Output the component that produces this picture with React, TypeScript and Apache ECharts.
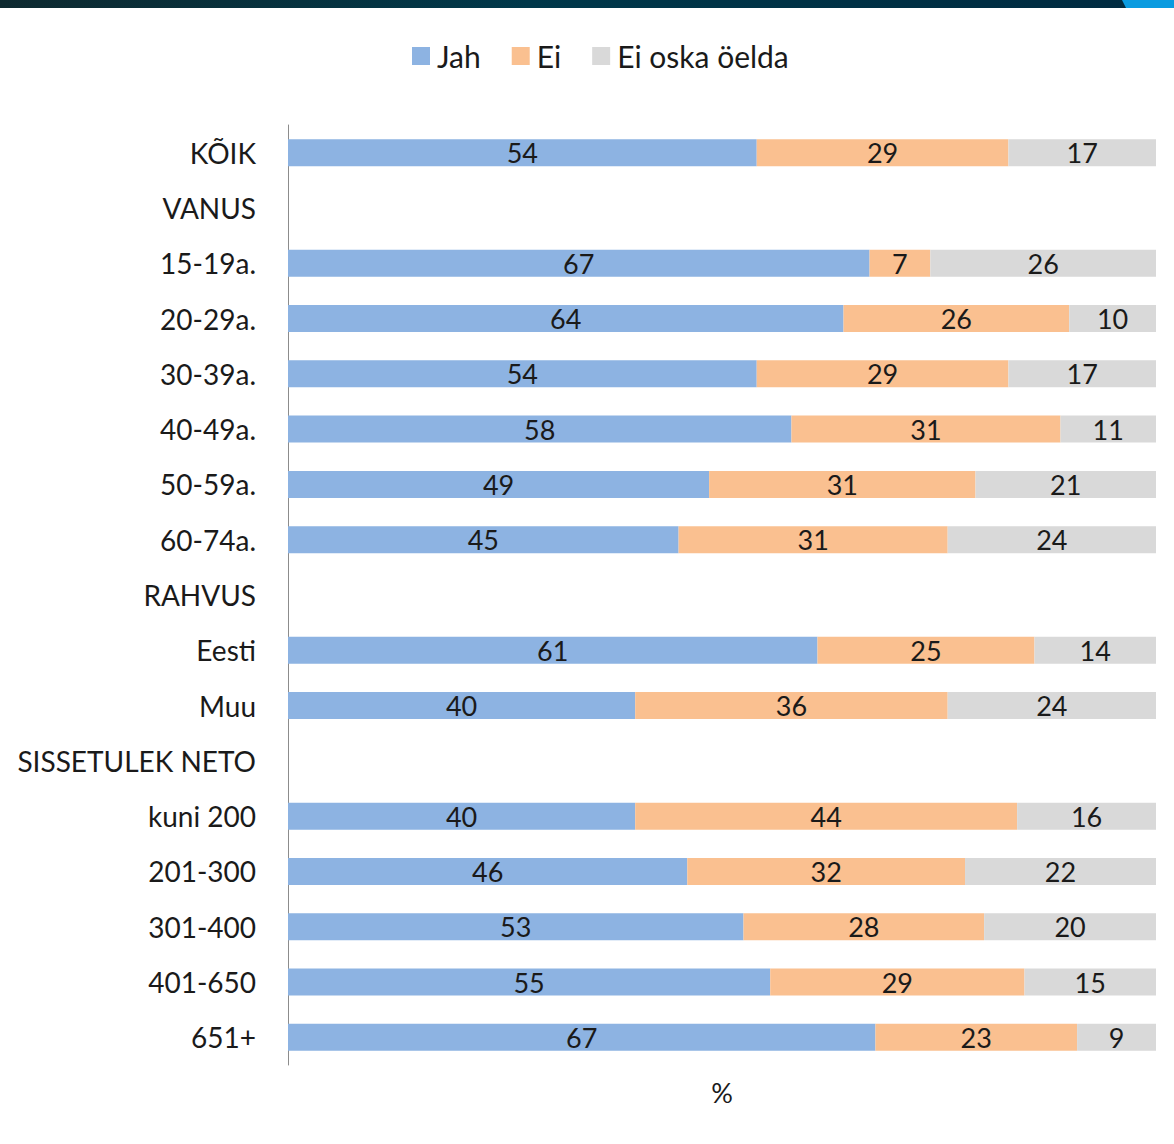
import React, { useEffect, useRef } from "react";
import * as echarts from "echarts";

const categories = [
  "KÕIK", "VANUS", "15-19a.", "20-29a.", "30-39a.", "40-49a.", "50-59a.", "60-74a.",
  "RAHVUS", "Eesti", "Muu", "SISSETULEK NETO", "kuni 200", "201-300", "301-400", "401-650", "651+",
];
const jah = [54, null, 67, 64, 54, 58, 49, 45, null, 61, 40, null, 40, 46, 53, 55, 67];
const ei = [29, null, 7, 26, 29, 31, 31, 31, null, 25, 36, null, 44, 32, 28, 29, 23];
const eos = [17, null, 26, 10, 17, 11, 21, 24, null, 14, 24, null, 16, 22, 20, 15, 9];
const seriesNames = ["Jah", "Ei", "Ei oska öelda"];
const colors = ["#8DB3E2", "#FAC090", "#D9D9D9"];

const FONT = "Lato, 'Open Sans', sans-serif";

export default function App() {
  const ref = useRef<HTMLDivElement>(null);
  useEffect(() => {
    if (!ref.current) return;
    const chart = echarts.init(ref.current, undefined, { renderer: "svg" });
    const raw = [jah, ei, eos];
    const totals = categories.map((_, i) => raw.reduce((s, arr) => s + (arr[i] ?? 0), 0));
    const series = raw.map((arr, k) => ({
      name: seriesNames[k],
      type: "bar",
      stack: "total",
      barWidth: 27,
      itemStyle: { color: colors[k] },
      data: arr.map((v, i) => (v == null ? null : { value: (v / totals[i]) * 100, raw: v })),
      label: {
        show: true,
        position: "inside",
        color: "#1a1a1a",
        fontSize: 27,
        fontFamily: FONT,
        formatter: (p: any) => (p.data && p.data.raw != null ? String(p.data.raw) : ""),
      },
    }));
    chart.setOption({
      animation: false,
      backgroundColor: "#ffffff",
      textStyle: { fontFamily: FONT },
      legend: {
        top: 36,
        left: 407,
        itemWidth: 18,
        itemHeight: 18,
        itemGap: 31,
        icon: "rect",
        textStyle: { fontSize: 30, color: "#1a1a1a", fontFamily: FONT, padding: [0, 0, 0, 2] },
        data: seriesNames,
      },
      grid: { left: 288, right: 18, top: 125, bottom: 79, containLabel: false },
      xAxis: {
        type: "value",
        min: 0,
        max: 100,
        axisLine: { show: false },
        axisTick: { show: false },
        axisLabel: { show: false },
        splitLine: { show: false },
        name: "%",
        nameLocation: "middle",
        nameGap: 14,
        nameTextStyle: { fontSize: 27, color: "#1a1a1a", fontFamily: FONT },
      },
      yAxis: {
        type: "category",
        inverse: true,
        data: categories,
        axisLine: { show: true, lineStyle: { color: "#8c8c8c", width: 1 } },
        axisTick: { show: false },
        axisLabel: { fontSize: 28, color: "#1a1a1a", margin: 32, fontFamily: FONT },
      },
      graphic: [
        {
          type: "rect",
          shape: { x: 0, y: 0, width: 1174, height: 8 },
          style: {
            fill: new echarts.graphic.LinearGradient(0, 0, 1, 0, [
              { offset: 0, color: "#0e2a30" },
              { offset: 0.45, color: "#00384a" },
              { offset: 1, color: "#002a40" },
            ]),
          },
          silent: true,
        },
        {
          type: "polygon",
          shape: { points: [[1122, 0], [1174, 0], [1174, 8], [1126, 8]] },
          style: { fill: "#0a9be0" },
          silent: true,
        },
      ],
      series,
    });
    return () => chart.dispose();
  }, []);
  return (
    <div
      ref={ref}
      style={{ position: "absolute", left: 0, top: 0, width: 1174, height: 1144 }}
    />
  );
}
